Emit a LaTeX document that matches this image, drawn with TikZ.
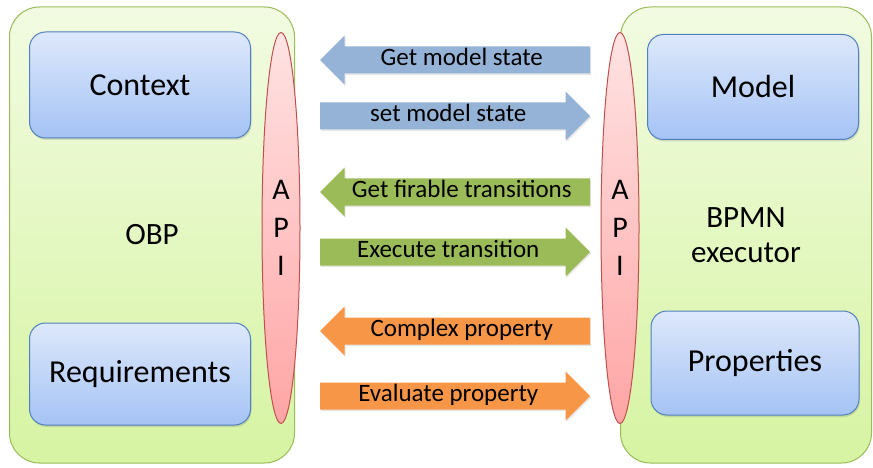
\documentclass[tikz,border=0pt]{standalone}
\usepackage{fontspec}
\setmainfont{Carlito}
\usetikzlibrary{shapes.geometric}
\usetikzlibrary{shapes.arrows}
\usetikzlibrary{shadows}
\definecolor{compborder}{HTML}{9BBB59}
\definecolor{comptop}{HTML}{F2FBE2}
\definecolor{compbot}{HTML}{D6F4A2}
\definecolor{boxborder}{HTML}{4F81BD}
\definecolor{boxtop}{HTML}{DDE8FB}
\definecolor{boxbot}{HTML}{A5C3F5}
\definecolor{apiborder}{HTML}{C0504D}
\definecolor{apitop}{HTML}{FFE3E3}
\definecolor{apibot}{HTML}{FFA5A5}
\definecolor{arrblue}{HTML}{95B3D7}
\definecolor{arrgreen}{HTML}{9BBB59}
\definecolor{arrorange}{HTML}{F79646}

\begin{document}
\begin{tikzpicture}[x=1pt,y=-1pt,line width=1pt]
	\tikzstyle{comp}=[draw=compborder,top color=comptop,bottom color=compbot,
		rounded corners=30pt,align=center,font=\fontsize{31}{35}\selectfont]
	\tikzstyle{inner}=[draw=boxborder,top color=boxtop,bottom color=boxbot,
		rounded corners=16pt,font=\fontsize{32}{35}\selectfont,
		drop shadow={shadow xshift=1pt,shadow yshift=-2pt,opacity=0.25}]
	\tikzstyle{api}=[ellipse,draw=apiborder,top color=apitop,bottom color=apibot,
		minimum width=38pt,minimum height=391pt,inner sep=0pt,align=center,
		font=\fontsize{30}{38}\selectfont]
	\tikzstyle{msg}=[single arrow,draw=none,minimum height=270pt,outer sep=0pt,
		single arrow head extend=11pt,inner xsep=2pt,inner ysep=2.5pt,anchor=tip,
		text height=16pt,text depth=5pt,font=\fontsize{25}{27}\selectfont,
		drop shadow={shadow xshift=1pt,shadow yshift=-1.5pt,opacity=0.2}]
	\tikzstyle{toleft}=[msg,shape border rotate=180]

	\useasboundingbox (0,0) rectangle (873,468);

	\node[comp,minimum width=285pt,minimum height=456pt] (obp)  at (152,235) {OBP};
	\node[comp,minimum width=251pt,minimum height=456pt] (bpmn) at (746,235) {BPMN\\executor};

	\node[api] (api1) at (281,228) {A\\P\\I};
	\node[api] (api2) at (620,228) {A\\P\\I};

	\node[inner,minimum width=221pt,minimum height=106pt] (ctx)   at (140,85)  {Context};
	\node[inner,minimum width=221pt,minimum height=102pt] (req)   at (140,374) {Requirements};
	\node[inner,minimum width=211pt,minimum height=105pt] (model) at (753,87)  {Model};
	\node[inner,minimum width=208pt,minimum height=104pt] (props) at (755,363) {Properties};

	% left arrows: tip on the OBP side, right arrows: tip on the executor side
	\node[toleft,fill=arrblue]   (getstate) at (320,60)  {Get model state};
	\node[msg,fill=arrblue]      (setstate) at (590,116) {set model state};
	\node[toleft,fill=arrgreen]  (getfire)  at (320,192) {Get firable transitions};
	\node[msg,fill=arrgreen]     (exec)     at (590,252) {Execute transition};
	\node[toleft,fill=arrorange] (complex)  at (320,331) {Complex property};
	\node[msg,fill=arrorange]    (evalp)    at (590,396) {Evaluate property};
\end{tikzpicture}
\end{document}
